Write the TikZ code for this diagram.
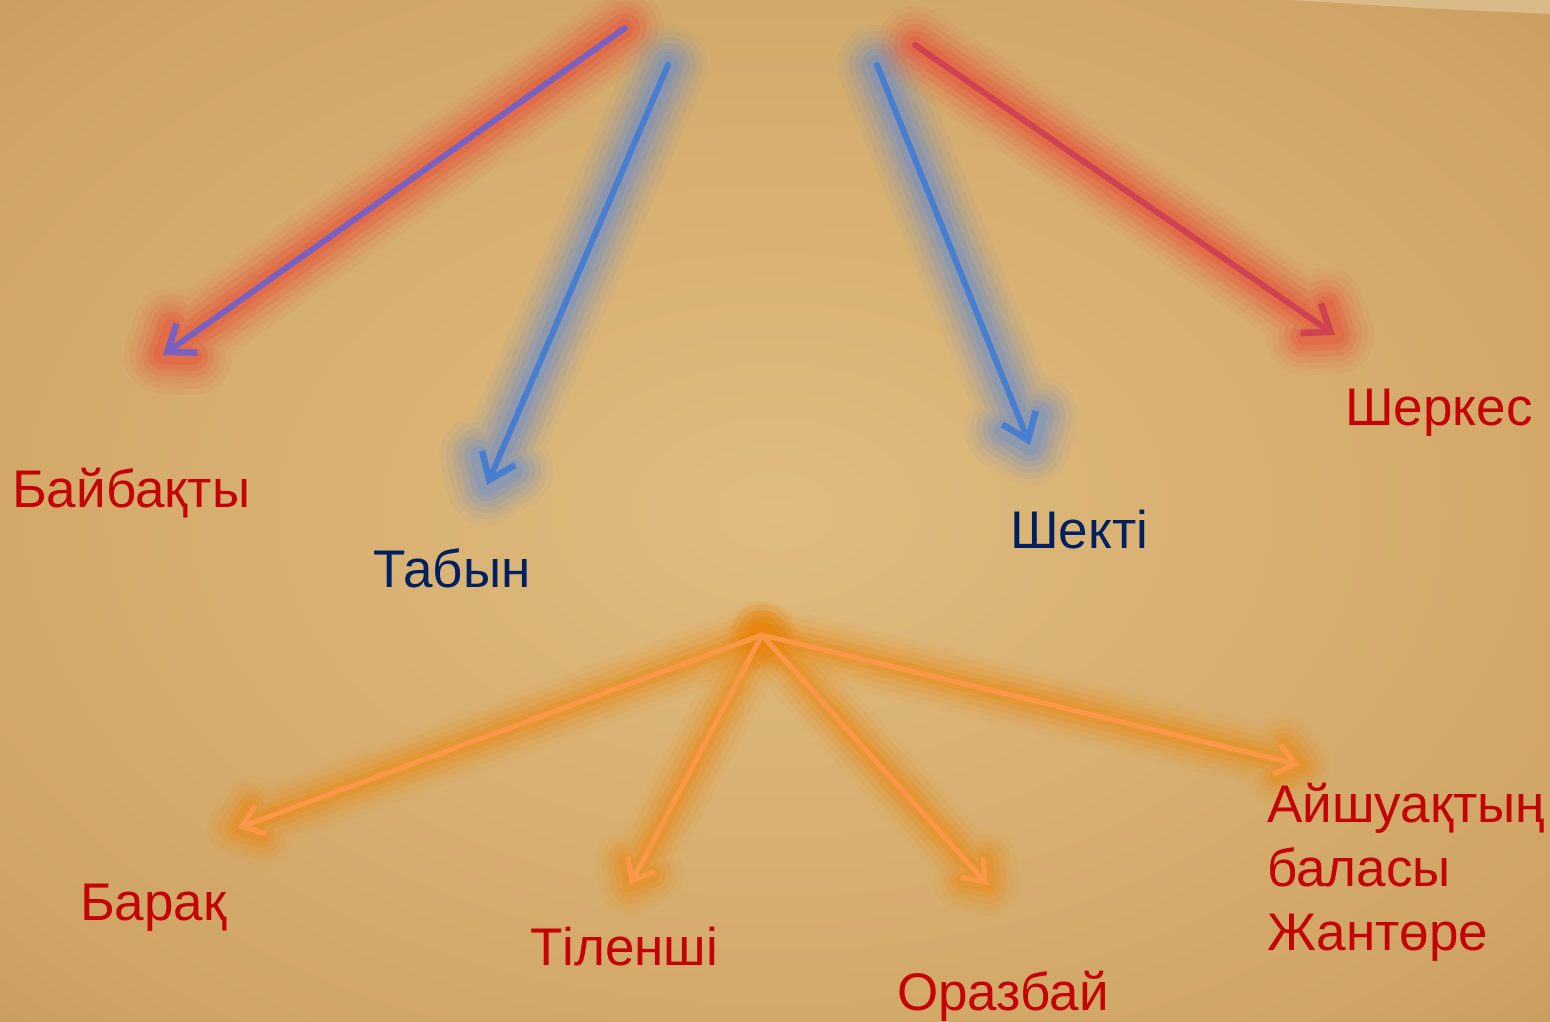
\documentclass[tikz,border=0pt]{standalone}
\usepackage{fontspec}
\setmainfont{Liberation Sans}
\usetikzlibrary{arrows.meta,calc}
\definecolor{paper}{RGB}{208,165,101}
\definecolor{paperlight}{RGB}{224,188,126}
\definecolor{paperdark}{RGB}{176,130,70}
\definecolor{paperedge}{RGB}{222,194,146}
\definecolor{txtred}{RGB}{196,4,4}
\definecolor{txtblue}{RGB}{0,32,96}
\definecolor{arrpurple}{RGB}{122,96,192}
\definecolor{arrblue}{RGB}{72,126,208}
\definecolor{arrred}{RGB}{206,66,82}
\definecolor{arrorange}{RGB}{250,152,72}
\definecolor{glowred}{RGB}{232,82,58}
\definecolor{glowblue}{RGB}{86,136,220}
\definecolor{gloworange}{RGB}{236,134,14}
\pgfdeclareradialshading{vign}{\pgfpoint{0bp}{0bp}}{color(0bp)=(paperlight); color(30bp)=(paper); color(60bp)=(paperdark); color(72bp)=(paperdark)}
% glow along a line and around its barbed head
\newcommand\glowseg[5]{%
  \foreach \w/\o in #4{
    \draw[line width=\w pt, draw opacity=\o, line cap=round, line join=round, #1]
      (#2) -- (#3) -- ($(#3)!#5!37:(#2)$) (#3) -- ($(#3)!#5!-37:(#2)$);}}
\def\redglow{78/0.07, 66/0.09, 54/0.13, 42/0.18, 30/0.25, 18/0.33}
\def\blueglow{80/0.06, 68/0.08, 56/0.11, 44/0.14, 32/0.18, 20/0.22}
\def\orglow{62/0.07, 50/0.10, 38/0.15, 26/0.21, 15/0.27}
\tikzset{
  lbl/.style={anchor=base west, inner sep=0pt, font=\fontsize{53}{64}\selectfont},
  redlbl/.style={lbl, text=txtred},
  bluelbl/.style={lbl, text=txtblue},
  arr/.style={line width=6pt, line cap=round, -{Straight Barb[length=24pt, width=36pt, line width=6.5pt]}},
  oarr/.style={line width=5pt, line cap=round, draw=arrorange, -{Straight Barb[length=20pt, width=30pt, line width=5pt]}}
}
\begin{document}
\begin{tikzpicture}[x=1pt,y=-1pt]
\useasboundingbox (0,0) rectangle (1550,1021);
\shade[shading=vign] (0,0) rectangle (1550,1021);
% page edge at top right
\fill[paperedge, opacity=0.8] (1290,0) -- (1550,0) -- (1550,14) -- (1420,8) -- cycle;
% coordinates
\coordinate (s1) at (625,28);  \coordinate (e1) at (163,355);
\coordinate (s2) at (668,65);  \coordinate (e2) at (487,485);
\coordinate (s3) at (877,65);  \coordinate (e3) at (1030,445);
\coordinate (s4) at (915,45);  \coordinate (e4) at (1335,335);
\coordinate (apex) at (762,635);
\coordinate (o1) at (238,828);
\coordinate (o2) at (630,885);
\coordinate (o3) at (988,885);
\coordinate (o4) at (1300,765);
% glows
\glowseg{glowred}{s1}{e1}{\redglow}{30pt}
\glowseg{glowblue}{s2}{e2}{\blueglow}{30pt}
\glowseg{glowblue}{s3}{e3}{\blueglow}{30pt}
\glowseg{glowred}{s4}{e4}{\redglow}{30pt}
\glowseg{gloworange}{apex}{o1}{\orglow}{25pt}
\glowseg{gloworange}{apex}{o2}{\orglow}{25pt}
\glowseg{gloworange}{apex}{o3}{\orglow}{25pt}
\glowseg{gloworange}{apex}{o4}{\orglow}{25pt}
\foreach \r/\o in {34/0.10, 24/0.14, 14/0.2}
  \fill[gloworange, opacity=\o] (apex) circle (\r pt);
% arrows
\draw[arr, draw=arrpurple] (s1) -- (e1);
\draw[arr, draw=arrblue] (s2) -- (e2);
\draw[arr, draw=arrblue] (s3) -- (e3);
\draw[arr, draw=arrred] (s4) -- (e4);
\draw[oarr] (apex) -- (o1);
\draw[oarr] (apex) -- (o2);
\draw[oarr] (apex) -- (o3);
\draw[oarr] (apex) -- (o4);
% labels
\node[redlbl] (baibakty) at (12,507) {Байбақты};
\node[bluelbl] (tabyn) at (373,587) {Табын};
\node[bluelbl] (shekti) at (1010,548) {Шекті};
\node[redlbl] (sherkes) at (1345,425) {Шеркес};
\node[redlbl] (barak) at (80,920) {Барақ};
\node[redlbl] (tilenshi) at (530,965) {Тіленші};
\node[redlbl] (orazbai) at (897,1010) {Оразбай};
\node[redlbl, align=left] (aishuak) at (1267,950) {Айшуақтың\\баласы\\Жантөре};
\end{tikzpicture}
\end{document}
